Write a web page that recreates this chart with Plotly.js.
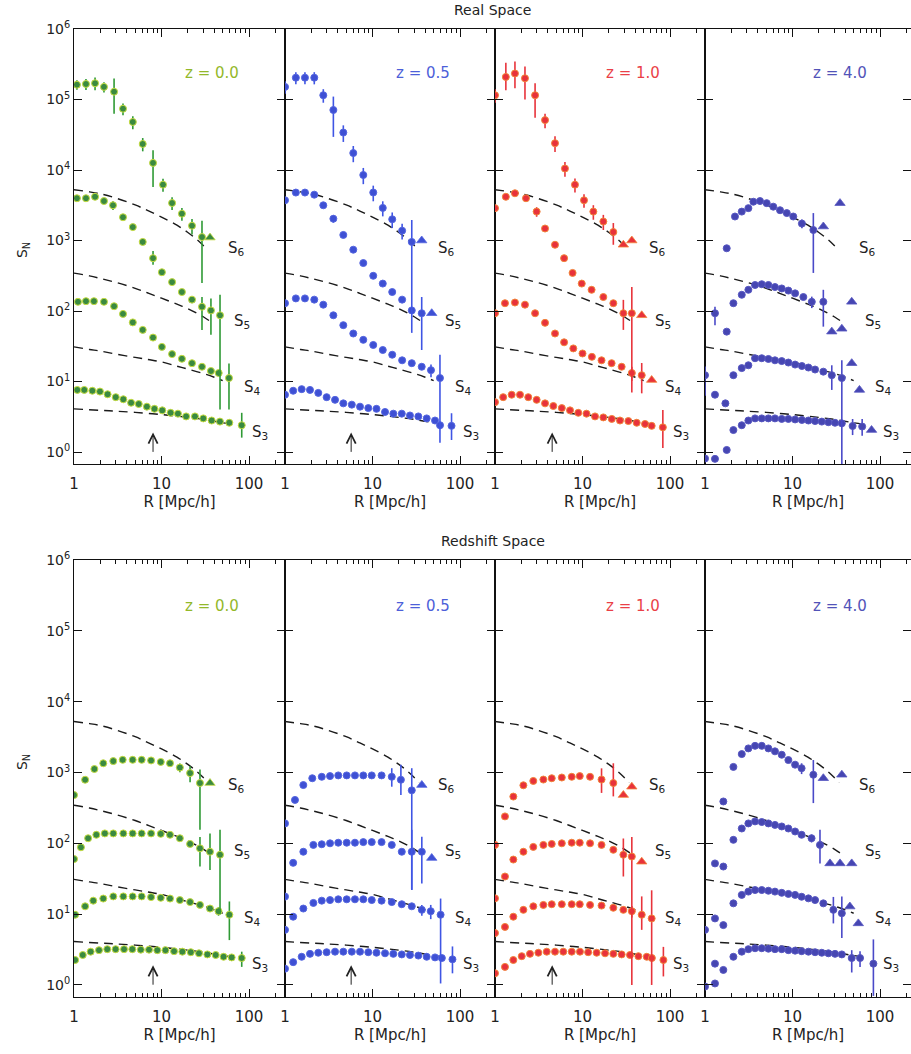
<!DOCTYPE html>
<html><head><meta charset="utf-8">
<script src="https://cdn.plot.ly/plotly-3.0.1.min.js"></script>
<style>html,body{margin:0;padding:0;background:#fff;}#chart{width:911px;height:1054px;}</style>
</head><body><div id="chart"></div>
<script>
// ---------- Theory curves (dashed) ----------
const th3_R = [1, 2, 3, 5, 10, 20, 30, 50, 70];
const th3   = [4.1, 3.9, 3.8, 3.65, 3.4, 3.1, 2.9, 2.6, 2.45];
const th4_R = [1, 1.5, 2, 3, 5, 7, 10, 15, 20, 30, 40, 50];
const th4   = [31, 28.5, 27, 24.5, 22, 20.5, 19, 16.5, 15, 13, 11.5, 10.3];
const th5_R = [1, 1.5, 2, 3, 5, 7, 10, 15, 20, 30, 38];
const th5   = [345, 315, 290, 255, 210, 180, 152, 125, 108, 83, 68];
const th6_R = [1, 1.5, 2, 3, 5, 7, 10, 15, 20, 25, 30, 34];
const th6   = [5250, 4900, 4600, 4000, 3200, 2650, 2150, 1650, 1300, 1050, 850, 720];

// ---------- Real space, z = 0.0 ----------
const r00_S6_R = [1.08, 1.37, 1.74, 2.2, 2.87, 3.63, 4.7, 6.1, 8.0, 10.4, 13.2, 17.1, 22.3, 29];
const r00_S6   = [162000, 166000, 170000, 151000, 129000, 74000, 48000, 23400, 12600, 6200, 3400, 2400, 1620, 1120];
const r00_S6_err = [[0,25000,25000],[1,30000,30000],[2,35000,35000],[3,25000,25000],[4,70000,66000],[5,14000,14000],[6,10000,10000],[7,5000,5000],[8,6400,6850],[9,1300,1300],[10,700,700],[11,500,500],[12,400,400],[13,780,870]];
const r00_S6_tR = [35.8], r00_S6_tS = [1100];
const r00_S5_R = [1.08, 1.37, 1.74, 2.2, 2.79, 3.63, 4.7, 6.1, 8.0, 10.1, 13.2, 17.1, 22.3, 29, 36.7, 46.6];
const r00_S5   = [3980, 3980, 4170, 3630, 3160, 2140, 1550, 955, 562, 355, 257, 186, 145, 115, 102, 87];
const r00_S5_err = [[4,450,450],[8,150,110],[13,43,61],[14,49,56],[15,83,83]];
const r00_S4_R = [1.11, 1.37, 1.69, 2.2, 2.87, 3.63, 4.7, 6.1, 8.0, 10.1, 13.2, 17.1, 22.3, 29, 36.7, 45, 59];
const r00_S4   = [135, 138, 138, 135, 117, 91, 69, 54, 42, 31, 24.5, 21, 18.2, 16.2, 14.1, 13.2, 11.2];
const r00_S4_err = [[16,6.8,7.2]];
const r00_S3_R = [1.09, 1.31, 1.62, 1.98, 2.42, 3.0, 3.66, 4.49, 5.49, 6.8, 8.3, 10.2, 12.7, 15.4, 19.1, 24.1, 30, 37.4, 46.5, 59.5, 82.5];
const r00_S3   = [7.6, 7.6, 7.4, 7.2, 6.6, 6.0, 5.6, 5.0, 4.8, 4.4, 4.1, 3.9, 3.6, 3.5, 3.2, 3.2, 3.0, 2.8, 2.7, 2.6, 2.4];
const r00_S3_err = [[20,1.2,0.8]];

// ---------- Real space, z = 0.5 ----------
const r05_S6_R = [1.0, 1.33, 1.69, 2.16, 2.74, 3.57, 4.64, 6.03, 7.85, 10.2, 13.1, 16.8, 21.8, 28.1];
const r05_S6   = [151000, 204000, 204000, 204000, 115000, 71000, 34000, 17400, 8500, 4800, 2900, 2000, 1380, 955];
const r05_S6_err = [[0,30000,30000],[1,40000,40000],[2,40000,40000],[3,40000,40000],[4,25000,25000],[5,39000,41500],[6,9000,9000],[7,4500,4500],[8,2200,2200],[9,1200,1200],[10,700,700],[11,500,500],[12,350,350],[13,1000,906]];
const r05_S6_tR = [36.5], r05_S6_tS = [1000];
const r05_S5_R = [1.0, 1.33, 1.69, 2.16, 2.74, 3.57, 4.64, 6.03, 7.85, 10.2, 13.1, 16.8, 21.8, 28.1, 36.5];
const r05_S5   = [3720, 4790, 4790, 4470, 3160, 2040, 1200, 741, 479, 316, 245, 186, 145, 102, 93];
const r05_S5_err = [[5,250,250],[14,65,65]];
const r05_S5_tR = [47.5], r05_S5_tS = [93];
const r05_S4_R = [1.0, 1.33, 1.69, 2.16, 2.74, 3.57, 4.64, 6.03, 7.85, 10.2, 13.1, 16.8, 21.8, 28.1, 36.5, 46.6, 59];
const r05_S4   = [129, 151, 151, 145, 123, 87, 63, 48, 39, 33, 28, 24, 20, 18.2, 16.2, 14.5, 11.2];
const r05_S4_err = [[15,3,3],[16,12.8,9.85]];
const r05_S3_R = [1.0, 1.24, 1.55, 1.93, 2.4, 2.99, 3.73, 4.64, 5.8, 7.2, 8.95, 11.1, 13.9, 17.3, 21.6, 26.8, 33.4, 41.6, 51.8, 59.1, 80];
const r05_S3   = [6.5, 7.4, 7.8, 7.6, 6.9, 6.0, 5.5, 4.9, 4.7, 4.4, 4.2, 4.1, 3.7, 3.5, 3.5, 3.3, 3.2, 3.0, 2.8, 2.4, 2.35];
const r05_S3_err = [[20,1.2,0.87]];

// ---------- Real space, z = 1.0 ----------
const r10_S6_R = [1.0, 1.33, 1.69, 2.2, 2.87, 3.73, 4.85, 6.3, 8.2, 10.4, 13.3, 17.3, 22.5];
const r10_S6   = [115000, 209000, 234000, 200000, 115000, 51000, 24000, 10500, 6200, 3720, 2570, 1860, 1320];
const r10_S6_err = [[0,25000,25000],[1,122000,74000],[2,113000,89000],[3,95000,100000],[4,55000,60000],[5,12000,12000],[6,6000,6000],[7,2500,2500],[8,1400,1400],[9,800,800],[10,600,600],[11,450,450],[12,450,450]];
const r10_S6_tR = [29.3, 36.6], r10_S6_tS = [870, 1000];
const r10_S5_R = [1.0, 1.33, 1.69, 2.26, 2.99, 3.73, 4.85, 6.16, 7.7, 9.8, 12.7, 17.3, 22.5, 29.3, 36.6];
const r10_S5   = [2880, 4170, 4680, 3980, 2570, 1480, 870, 562, 347, 245, 200, 158, 129, 93, 93];
const r10_S5_err = [[4,400,400],[13,51,39],[14,127,86]];
const r10_S5_tR = [47.5], r10_S5_tS = [87];
const r10_S4_R = [1.0, 1.30, 1.69, 2.2, 2.87, 3.73, 4.85, 6.16, 7.85, 10.0, 12.8, 16.5, 21.5, 28, 36.6, 47.5];
const r10_S4   = [93, 129, 132, 123, 93, 68, 48, 36, 29.5, 25, 22.4, 20, 18.2, 16.2, 13.2, 12.3];
const r10_S4_err = [[14,3,3],[15,6,5.5]];
const r10_S4_tR = [61.7], r10_S4_tS = [10.5];
const r10_S3_R = [1.0, 1.24, 1.55, 1.93, 2.4, 2.99, 3.73, 4.64, 5.8, 7.2, 8.95, 11.1, 13.9, 17.3, 21.6, 26.8, 33.4, 41.6, 51.8, 61.7, 82.8];
const r10_S3   = [5.1, 6.0, 6.5, 6.5, 6.0, 5.5, 4.9, 4.5, 4.2, 3.9, 3.6, 3.5, 3.2, 3.1, 2.95, 2.8, 2.75, 2.6, 2.5, 2.35, 2.24];
const r10_S3_err = [[20,1.7,1.1]];

// ---------- Real space, z = 4.0 ----------
const r40_S6_R = [1.77, 2.2, 2.63, 3.13, 3.57, 4.25, 5.07, 6.03, 7.2, 8.6, 10.2, 12.8, 17.3];
const r40_S6   = [776, 2190, 2570, 2880, 3550, 3630, 3390, 3020, 2690, 2450, 2190, 1740, 1410];
const r40_S6_err = [[11,250,250],[12,1040,1063]];
const r40_S6_tR = [22.5, 34.9], r40_S6_tS = [1580, 3390];
const r40_S5_R = [1.3, 1.77, 2.11, 2.63, 3.13, 3.73, 4.45, 5.3, 6.3, 7.53, 8.97, 10.7, 13.3, 16.6, 22.5];
const r40_S5   = [93, 51, 129, 170, 200, 234, 240, 234, 219, 209, 195, 178, 158, 135, 135];
const r40_S5_err = [[0,22,30],[13,25,25],[14,65,75]];
const r40_S5_tR = [28.1, 36.6, 47.5], r40_S5_tS = [51, 56, 135];
const r40_S4_R = [1.0, 1.3, 1.71, 2.11, 2.63, 3.13, 3.73, 4.45, 5.3, 6.3, 7.53, 8.97, 10.7, 12.8, 15.2, 18.1, 22.5, 28.1, 36.6];
const r40_S4   = [12.3, 6.5, 4.9, 12.3, 15.5, 17, 21.4, 21.4, 20.9, 20, 19.5, 18.6, 17.4, 16.6, 15.8, 14.8, 13.8, 12.3, 11.2];
const r40_S4_err = [[0,4,6],[17,4.7,4.7],[18,8.8,10.6]];
const r40_S4_tR = [47.5, 58.2], r40_S4_tS = [18.2, 7.6];
const r40_S3_R = [1.0, 1.3, 1.77, 2.11, 2.63, 3.13, 3.73, 4.45, 5.3, 6.3, 7.53, 8.97, 10.7, 12.8, 15.2, 18.1, 21.6, 25.7, 30.6, 36.6, 48.6, 62.5];
const r40_S3   = [0.81, 0.8, 1.07, 2.05, 2.4, 2.8, 3.0, 3.0, 3.0, 3.0, 2.95, 2.95, 2.9, 2.85, 2.8, 2.75, 2.7, 2.65, 2.6, 2.55, 2.34, 2.3];
const r40_S3_err = [[20,0.6,0.6],[21,0.65,0.6]];
const r40_S3_tR = [80], r40_S3_tS = [2.05];

// ---------- Redshift space, z = 0.0 ----------
const z00_S6_R = [1.0, 1.34, 1.71, 2.16, 2.81, 3.6, 4.68, 5.93, 7.6, 9.8, 12.5, 16.2, 21.2, 27.5];
const z00_S6   = [480, 790, 1120, 1350, 1450, 1510, 1510, 1510, 1480, 1410, 1350, 1175, 980, 710];
const z00_S6_err = [[11,170,170],[12,250,250],[13,390,555]];
const z00_S6_tR = [35.8], z00_S6_tS = [710];
const z00_S5_R = [1.0, 1.2, 1.45, 1.8, 2.25, 2.81, 3.66, 4.68, 5.93, 7.6, 9.8, 12.5, 16.2, 21.2, 27.5, 35.8, 46.6];
const z00_S5   = [60, 88, 118, 132, 138, 138, 138, 138, 138, 138, 136, 132, 118, 98, 85, 76, 69];
const z00_S5_err = [[14,38,38],[15,62,34],[16,86,59]];
const z00_S4_R = [1.03, 1.34, 1.66, 2.16, 2.81, 3.66, 4.68, 5.93, 7.6, 9.8, 12.5, 16.2, 21.2, 27.5, 35.8, 44.8, 59.6];
const z00_S4   = [9.8, 12.9, 15.5, 16.6, 17.8, 17.8, 17.8, 17.8, 17.4, 17.0, 16.6, 15.8, 14.8, 13.5, 12.0, 11.0, 9.8];
const z00_S4_err = [[15,1.5,1.5],[16,5.3,5.5]];
const z00_S3_R = [1.03, 1.26, 1.55, 1.93, 2.40, 2.99, 3.73, 4.64, 5.8, 7.2, 8.95, 11.1, 13.9, 17.3, 21.6, 26.8, 33.4, 41.6, 51.2, 63.3, 82.5];
const z00_S3   = [2.25, 2.65, 2.95, 3.1, 3.2, 3.2, 3.2, 3.2, 3.15, 3.15, 3.1, 3.1, 3.0, 2.95, 2.9, 2.8, 2.7, 2.65, 2.5, 2.45, 2.4];
const z00_S3_err = [[20,0.55,0.6]];

// ---------- Redshift space, z = 0.5 ----------
const z05_S6_R = [1.0, 1.30, 1.62, 2.05, 2.63, 3.27, 4.06, 5.07, 6.3, 7.85, 9.8, 12.7, 16.6, 21.1, 28.1];
const z05_S6   = [191, 410, 665, 830, 870, 890, 910, 910, 910, 910, 910, 910, 870, 790, 560];
const z05_S6_err = [[12,280,240],[13,500,310],[14,590,538]];
const z05_S6_tR = [36.6], z05_S6_tS = [665];
const z05_S5_R = [1.0, 1.24, 1.62, 2.11, 2.63, 3.27, 4.06, 5.07, 6.3, 7.85, 9.8, 12.7, 16.6, 21.6, 28.1, 36.6];
const z05_S5   = [17.7, 53, 76, 95, 97, 100, 102, 102, 102, 104, 104, 104, 95, 76, 76, 76];
const z05_S5_err = [[14,79,54],[15,48,49]];
const z05_S5_tR = [47.5], z05_S5_tS = [62];
const z05_S4_R = [1.0, 1.24, 1.62, 2.11, 2.63, 3.27, 4.06, 5.07, 6.3, 7.85, 9.8, 12.7, 16.6, 21.6, 28.1, 36.6, 46.3, 60];
const z05_S4   = [6, 9.2, 12, 14.4, 15.5, 15.8, 16.2, 16.2, 16.2, 16.2, 15.8, 15.5, 14.8, 13.8, 12.9, 11.5, 11.0, 9.8];
const z05_S4_err = [[15,2,2],[16,2.5,2.5],[17,6.8,8.75]];
const z05_S3_R = [1.0, 1.24, 1.55, 1.93, 2.4, 2.99, 3.73, 4.64, 5.8, 7.2, 8.95, 11.1, 13.9, 17.3, 21.6, 26.8, 33.4, 41.6, 51.8, 62, 82];
const z05_S3   = [1.7, 2.1, 2.5, 2.75, 2.85, 2.9, 2.95, 2.95, 2.95, 2.95, 2.9, 2.85, 2.8, 2.75, 2.7, 2.65, 2.6, 2.5, 2.45, 2.4, 2.3];
const z05_S3_err = [[20,1.2,0.84]];

// ---------- Redshift space, z = 1.0 ----------
const z10_S6_R = [1.0, 1.30, 1.62, 2.11, 2.74, 3.57, 4.45, 5.8, 7.53, 9.3, 12.2, 16.5, 22.5];
const z10_S6   = [95, 240, 457, 660, 760, 795, 830, 850, 870, 890, 870, 795, 710];
const z10_S6_err = [[11,350,280],[12,640,250]];
const z10_S6_tR = [29.3, 36.6], z10_S6_tS = [480, 630];
const z10_S5_R = [1.0, 1.30, 1.62, 2.11, 2.74, 3.57, 4.45, 5.8, 7.53, 9.3, 12.2, 16.5, 22.5, 29.3, 36.6];
const z10_S5   = [16.7, 34, 59, 76, 89, 95, 98, 100, 102, 102, 100, 95, 81, 69, 65];
const z10_S5_err = [[13,48,35],[14,58,64]];
const z10_S5_tR = [47.5], z10_S5_tS = [55];
const z10_S4_R = [1.0, 1.30, 1.62, 2.11, 2.74, 3.57, 4.45, 5.8, 7.53, 9.3, 12.2, 16.5, 22.5, 29.3, 36.6, 47.5, 61.7];
const z10_S4   = [5.4, 6.6, 9.2, 11.5, 12.9, 13.5, 13.8, 13.8, 13.8, 13.8, 13.5, 13.2, 12.3, 11.5, 11, 9.8, 8.7];
const z10_S4_err = [[14,2,2],[15,8,3.8],[16,13,7.7]];
const z10_S3_R = [1.0, 1.30, 1.62, 2.02, 2.51, 3.13, 3.9, 4.85, 6.03, 7.53, 9.35, 11.6, 14.5, 18.1, 22.5, 28.0, 34.9, 43.5, 54.2, 62, 84];
const z10_S3   = [1.46, 1.8, 2.25, 2.55, 2.75, 2.85, 2.95, 2.95, 2.95, 2.95, 2.95, 2.9, 2.85, 2.8, 2.75, 2.7, 2.65, 2.55, 2.5, 2.4, 2.25];
const z10_S3_err = [[20,1.2,0.93]];

// ---------- Redshift space, z = 4.0 ----------
const z40_S6_R = [1.62, 2.11, 2.63, 3.13, 3.73, 4.45, 5.3, 6.3, 7.53, 8.97, 10.7, 12.7, 17.3];
const z40_S6   = [390, 1200, 1820, 2190, 2380, 2380, 2190, 1990, 1780, 1500, 1290, 1150, 930];
const z40_S6_err = [[11,200,200],[12,570,560]];
const z40_S6_tR = [22.5, 36.6], z40_S6_tS = [830, 930];
const z40_S5_R = [1.3, 1.62, 2.11, 2.63, 3.13, 3.73, 4.45, 5.3, 6.3, 7.53, 8.97, 10.7, 12.7, 16.5, 20.6];
const z40_S5   = [52, 47, 112, 162, 191, 204, 200, 191, 182, 173, 162, 147, 132, 118, 95];
const z40_S5_err = [[13,15,15],[14,60,43]];
const z40_S5_tR = [26.8, 34.9, 47.5], z40_S5_tS = [52, 52, 52];
const z40_S4_R = [1.0, 1.3, 1.62, 2.11, 2.63, 3.13, 3.73, 4.45, 5.3, 6.3, 7.53, 8.97, 10.7, 12.7, 15.2, 18.1, 22.5, 29.3, 36.6];
const z40_S4   = [6, 8.7, 7, 14.2, 18.7, 20.8, 21.9, 21.9, 21.4, 20.8, 20, 19.3, 18.7, 17.6, 16.7, 15.8, 14.2, 11.5, 10.3];
const z40_S4_err = [[17,6,4.1],[18,7.5,5.7]];
const z40_S4_tR = [45.2, 56.5], z40_S4_tS = [12.8, 7.4];
const z40_S3_R = [1.0, 1.3, 1.3, 1.62, 2.11, 2.63, 3.13, 3.73, 4.45, 5.3, 6.3, 7.53, 8.97, 10.7, 12.7, 15.2, 18.1, 21.6, 25.7, 30.6, 36.6, 47.5, 59.1, 84];
const z40_S3   = [0.95, 1.05, 2.0, 1.63, 2.5, 2.95, 3.2, 3.3, 3.3, 3.25, 3.2, 3.2, 3.1, 3.05, 3.0, 2.95, 2.9, 2.85, 2.8, 2.75, 2.7, 2.4, 2.4, 2.0];
const z40_S3_err = [[21,0.7,0.9],[22,0.6,0.6],[23,2.4,1.3]];

// ---------- Labels / ticks ----------
const rowTitles = ['Real Space', 'Redshift Space'];
const zLabels = ['z = 0.0', 'z = 0.5', 'z = 1.0', 'z = 4.0'];
const seriesNames = ['S<sub>3</sub>', 'S<sub>4</sub>', 'S<sub>5</sub>', 'S<sub>6</sub>'];
const seriesLabelR = [134, 110, 84, 71];
const seriesLabelS = [[1.9, 8.2, 72, 780], [1.95, 8.8, 76, 650]];
const arrowR = [8.0, 5.7, 4.5, null];
const arrowS = 1.9;
const xTickVals = [1, 10, 100];
const xTickText = ['1', '10', '100'];
const xMinorVals = [2,3,4,5,6,7,8,9,20,30,40,50,60,70,80,90,200];
const yTickVals = [1, 10, 100, 1000, 10000, 100000, 1000000];
const yTickText = ['10<sup>0</sup>','10<sup>1</sup>','10<sup>2</sup>','10<sup>3</sup>','10<sup>4</sup>','10<sup>5</sup>','10<sup>6</sup>'];

// ---------- Styles ----------
const fillC = ['#3a8a40', '#3e50d4', '#e8323b', '#4646b2'];
const rimC  = ['#c6dc40', '#5566e0', '#f2853a', '#5858c2'];
const errC  = ['#2f9a35', '#3f55e4', '#e8333b', '#4a49c8'];
const zTextC = ['#93b82a', '#4d5fd9', '#ea3f47', '#5253b8'];

const theory = [[th3_R, th3], [th4_R, th4], [th5_R, th5], [th6_R, th6]];

const panels = [
  [[r00_S3_R, r00_S3, r00_S3_err, [], []], [r00_S4_R, r00_S4, r00_S4_err, [], []], [r00_S5_R, r00_S5, r00_S5_err, [], []], [r00_S6_R, r00_S6, r00_S6_err, r00_S6_tR, r00_S6_tS]],
  [[r05_S3_R, r05_S3, r05_S3_err, [], []], [r05_S4_R, r05_S4, r05_S4_err, [], []], [r05_S5_R, r05_S5, r05_S5_err, r05_S5_tR, r05_S5_tS], [r05_S6_R, r05_S6, r05_S6_err, r05_S6_tR, r05_S6_tS]],
  [[r10_S3_R, r10_S3, r10_S3_err, [], []], [r10_S4_R, r10_S4, r10_S4_err, r10_S4_tR, r10_S4_tS], [r10_S5_R, r10_S5, r10_S5_err, r10_S5_tR, r10_S5_tS], [r10_S6_R, r10_S6, r10_S6_err, r10_S6_tR, r10_S6_tS]],
  [[r40_S3_R, r40_S3, r40_S3_err, r40_S3_tR, r40_S3_tS], [r40_S4_R, r40_S4, r40_S4_err, r40_S4_tR, r40_S4_tS], [r40_S5_R, r40_S5, r40_S5_err, r40_S5_tR, r40_S5_tS], [r40_S6_R, r40_S6, r40_S6_err, r40_S6_tR, r40_S6_tS]],
  [[z00_S3_R, z00_S3, z00_S3_err, [], []], [z00_S4_R, z00_S4, z00_S4_err, [], []], [z00_S5_R, z00_S5, z00_S5_err, [], []], [z00_S6_R, z00_S6, z00_S6_err, z00_S6_tR, z00_S6_tS]],
  [[z05_S3_R, z05_S3, z05_S3_err, [], []], [z05_S4_R, z05_S4, z05_S4_err, [], []], [z05_S5_R, z05_S5, z05_S5_err, z05_S5_tR, z05_S5_tS], [z05_S6_R, z05_S6, z05_S6_err, z05_S6_tR, z05_S6_tS]],
  [[z10_S3_R, z10_S3, z10_S3_err, [], []], [z10_S4_R, z10_S4, z10_S4_err, [], []], [z10_S5_R, z10_S5, z10_S5_err, z10_S5_tR, z10_S5_tS], [z10_S6_R, z10_S6, z10_S6_err, z10_S6_tR, z10_S6_tS]],
  [[z40_S3_R, z40_S3, z40_S3_err, [], []], [z40_S4_R, z40_S4, z40_S4_err, z40_S4_tR, z40_S4_tS], [z40_S5_R, z40_S5, z40_S5_err, z40_S5_tR, z40_S5_tS], [z40_S6_R, z40_S6, z40_S6_err, z40_S6_tR, z40_S6_tS]]
];

// ---------- Geometry ----------
const xDomains = [[0, 0.2521], [0.2521, 0.5030], [0.5030, 0.7539], [0.7539, 1]];
const xRanges = [[0, 2.411], [0, 2.40], [0, 2.40], [0, 2.354]];
const yDomains = [[0.5506, 1], [0, 0.4514]];
const yRange = [-0.17, 6];

function errArrays(n, list) {
  const up = new Array(n).fill(0), dn = new Array(n).fill(0);
  list.forEach(e => { up[e[0]] = e[1]; dn[e[0]] = e[2]; });
  return [up, dn];
}

const FONT = 'DejaVu Sans, Liberation Sans, sans-serif';
const data = [];
const annotations = [];
const layout = {
  width: 911, height: 1054,
  margin: {l: 74, r: 0, t: 29, b: 57},
  showlegend: false,
  paper_bgcolor: '#ffffff', plot_bgcolor: '#ffffff',
  font: {family: FONT, color: '#222', size: 14},
  annotations: annotations
};

panels.forEach((series, i) => {
  const n = i + 1;
  const col = i % 4, row = Math.floor(i / 4);
  const xa = n === 1 ? 'x' : 'x' + n;
  const ya = n === 1 ? 'y' : 'y' + n;
  layout[n === 1 ? 'xaxis' : 'xaxis' + n] = {
    type: 'log', domain: xDomains[col], range: xRanges[col], anchor: ya,
    showline: true, linecolor: '#111', linewidth: 1, mirror: 'ticks',
    ticks: 'inside', ticklen: 8, tickwidth: 1, tickcolor: '#111',
    tickmode: 'array', tickvals: xTickVals, ticktext: xTickText,
    minor: {ticks: 'inside', ticklen: 4, tickwidth: 1, tickcolor: '#111', tickmode: 'array', tickvals: xMinorVals},
    showgrid: false, zeroline: false,
    tickfont: {size: 15, family: FONT, color: '#222'},
    ticklabelstandoff: 6,
    title: {text: 'R [Mpc/h]', font: {size: 15, family: FONT, color: '#222'}, standoff: 2},
    fixedrange: true
  };
  layout[n === 1 ? 'yaxis' : 'yaxis' + n] = {
    type: 'log', domain: yDomains[row], range: yRange, anchor: xa,
    showline: true, linecolor: '#111', linewidth: 1, mirror: 'ticks',
    ticks: 'inside', ticklen: 8, tickwidth: 1, tickcolor: '#111',
    tickmode: 'array', tickvals: yTickVals, ticktext: yTickText,
    showticklabels: col === 0,
    showgrid: false, zeroline: false,
    tickfont: {size: 14, family: FONT, color: '#222'},
    fixedrange: true
  };

  theory.forEach(t => data.push({
    type: 'scatter', mode: 'lines', x: t[0], y: t[1], xaxis: xa, yaxis: ya,
    line: {color: '#1a1a1a', width: 1.4, dash: '9px,6px', shape: 'spline'}, hoverinfo: 'skip'
  }));

  series.forEach((s, k) => {
    const [R, S, err, tR, tS] = s;
    const [up, dn] = errArrays(R.length, err);
    data.push({
      type: 'scatter', mode: 'markers', x: R, y: S, xaxis: xa, yaxis: ya,
      marker: {symbol: 'circle', size: 7, color: fillC[col], line: {color: rimC[col], width: 1}},
      error_y: {type: 'data', symmetric: false, array: up, arrayminus: dn, color: errC[col], thickness: 1.6, width: 0}
    });
    if (tR.length) data.push({
      type: 'scatter', mode: 'markers', x: tR, y: tS, xaxis: xa, yaxis: ya,
      marker: {symbol: 'triangle-up', size: 9, color: fillC[col], line: {color: rimC[col], width: 0.8}}
    });
    annotations.push({
      xref: xa, yref: ya, x: Math.log10(seriesLabelR[k]), y: Math.log10(seriesLabelS[row][k]),
      text: seriesNames[k], showarrow: false, font: {size: 15, family: FONT, color: '#222'}
    });
  });

  annotations.push({
    xref: xa + ' domain', yref: ya + ' domain', x: 0.655, y: row === 0 ? 0.925 : 0.92,
    text: zLabels[col], showarrow: false, font: {size: 15, family: FONT, color: zTextC[col]}
  });

  if (arrowR[col] !== null) {
    annotations.push({
      xref: xa, yref: ya, x: Math.log10(arrowR[col]), y: Math.log10(arrowS),
      ax: 0, ay: 21, text: '', showarrow: true, arrowhead: 5, arrowsize: 1.8, arrowwidth: 1, arrowcolor: '#222'
    });
  }
});

annotations.push({xref: 'paper', yref: 'paper', x: 0.5, y: 1.0196, text: rowTitles[0], showarrow: false, yanchor: 'middle', font: {size: 14, family: FONT, color: '#222'}});
annotations.push({xref: 'paper', yref: 'paper', x: 0.5, y: 0.471, text: rowTitles[1], showarrow: false, yanchor: 'middle', font: {size: 14, family: FONT, color: '#222'}});
annotations.push({xref: 'paper', yref: 'paper', x: -0.074, y: 0.782, text: 'S<sub>N</sub>', textangle: -90, showarrow: false, font: {size: 14, family: FONT, color: '#222'}});
annotations.push({xref: 'paper', yref: 'paper', x: -0.074, y: 0.2324, text: 'S<sub>N</sub>', textangle: -90, showarrow: false, font: {size: 14, family: FONT, color: '#222'}});

Plotly.newPlot('chart', data, layout, {staticPlot: true, displayModeBar: false});
</script></body></html>
